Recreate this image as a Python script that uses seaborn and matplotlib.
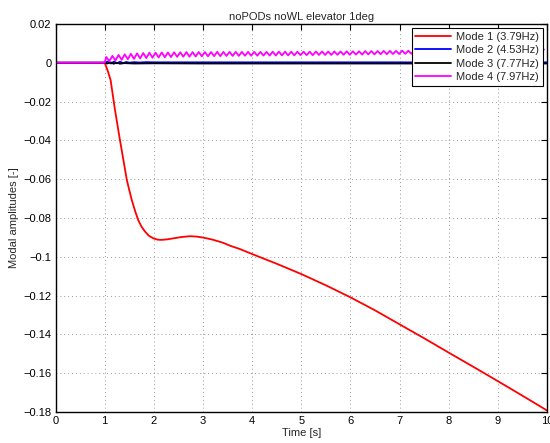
import numpy as np
import pandas as pd
import matplotlib
matplotlib.use("Agg")
import matplotlib.pyplot as plt
import seaborn as sns

# ---------------- data ----------------
title = "noPODs noWL elevator 1deg"
labels = ["Mode 1 (3.79Hz)", "Mode 2 (4.53Hz)", "Mode 3 (7.77Hz)", "Mode 4 (7.97Hz)"]
colors = ["#ff0000", "#0000ff", "#000000", "#ff00ff"]

x_ticks = [0, 1, 2, 3, 4, 5, 6, 7, 8, 9, 10]
y_ticks = [0.02, 0, -0.02, -0.04, -0.06, -0.08, -0.10, -0.12, -0.14, -0.16, -0.18]
y_tick_labels = ["0.02", "0", "\u22120.02", "\u22120.04", "\u22120.06", "\u22120.08",
                 "\u22120.1", "\u22120.12", "\u22120.14", "\u22120.16", "\u22120.18"]

# Mode 1
t_mode1 = [0, 1.0, 1.06, 1.12, 1.21, 1.31, 1.38, 1.45, 1.55, 1.62, 1.68, 1.75, 1.82, 1.90,
           1.99, 2.08, 2.16, 2.28, 2.40, 2.57, 2.74, 2.87, 3.0, 3.2, 3.41, 3.55, 3.75, 4.0,
           4.5, 5.0, 5.5, 6.0, 6.5, 7.0, 7.5, 8.0, 8.5, 9.0, 9.5, 10.0]
v_mode1 = [0, 0, -0.0040, -0.0089, -0.0244, -0.0398, -0.0500, -0.0604, -0.0707, -0.0765,
           -0.0810, -0.0845, -0.0870, -0.0892, -0.0905, -0.0912, -0.0913, -0.0910, -0.0905,
           -0.0898, -0.0894, -0.0896, -0.0901, -0.0912, -0.0928, -0.0943, -0.0960, -0.0986,
           -0.1036, -0.1089, -0.1147, -0.1209, -0.1276, -0.1348, -0.1420, -0.1494, -0.1567,
           -0.1641, -0.1716, -0.1792]

# Mode 2
t_mode2 = [0, 1.0, 1.06, 1.13, 1.19, 1.25, 1.31, 1.38, 1.44, 1.5, 1.6, 1.7, 1.85, 2.0,
           3.0, 4.0, 5.0, 6.0, 7.0, 8.0, 9.0, 10.0]
v_mode2 = [0, 0, 0.0006, -0.0004, 0.0006, -0.0003, 0.0005, -0.0002, 0.0004, 0.0000,
           0.0003, 0.0001, 0.0003, 0.0002, 0.0002, 0.0002, 0.0002, 0.0002, 0.0002,
           0.0002, 0.0002, 0.0002]

# Mode 3
t_mode3 = [0, 1.0, 1.05, 1.12, 1.18, 1.25, 1.31, 1.4, 1.6, 2.0, 3.0, 4.0, 5.0, 6.0,
           7.0, 8.0, 9.0, 10.0]
v_mode3 = [0, 0, -0.0004, 0.0002, -0.0005, 0.0000, -0.0005, -0.0002, -0.0004, -0.0003,
           -0.0004, -0.0004, -0.0004, -0.0004, -0.0004, -0.0004, -0.0004, -0.0004]

# Mode 4: successive peak / trough values of the 7.97 Hz oscillation from t = 1 s
mode4_freq = 7.97
mode4_peaks = [
    0.0030, 0.0035, 0.0040, 0.0043, 0.0046, 0.0048, 0.0050, 0.0052,
    0.0052, 0.0053, 0.0053, 0.0054, 0.0054, 0.0055, 0.0055, 0.0055,
    0.0055, 0.0055, 0.0056, 0.0056, 0.0056, 0.0056, 0.0056, 0.0056,
    0.0056, 0.0056, 0.0056, 0.0057, 0.0057, 0.0057, 0.0057, 0.0057,
    0.0057, 0.0057, 0.0058, 0.0058, 0.0058, 0.0058, 0.0058, 0.0059,
    0.0059, 0.0059, 0.0060, 0.0060, 0.0060, 0.0061, 0.0061, 0.0061,
    0.0062, 0.0062, 0.0062, 0.0063, 0.0063, 0.0063, 0.0064, 0.0064,
    0.0064, 0.0064, 0.0065, 0.0065, 0.0065, 0.0065, 0.0066, 0.0066,
    0.0066, 0.0066, 0.0067, 0.0067, 0.0067, 0.0067, 0.0068, 0.0068]
mode4_troughs = [
    0.0008, 0.0012, 0.0015, 0.0018, 0.0020, 0.0022, 0.0024, 0.0026,
    0.0027, 0.0028, 0.0029, 0.0030, 0.0031, 0.0031, 0.0032, 0.0033,
    0.0033, 0.0034, 0.0034, 0.0035, 0.0035, 0.0035, 0.0036, 0.0036,
    0.0036, 0.0037, 0.0037, 0.0037, 0.0038, 0.0038, 0.0038, 0.0039,
    0.0039, 0.0039, 0.0040, 0.0040, 0.0040, 0.0041, 0.0041, 0.0041,
    0.0042, 0.0042, 0.0043, 0.0043, 0.0044, 0.0044, 0.0045, 0.0045,
    0.0046, 0.0046, 0.0047, 0.0047, 0.0048, 0.0048, 0.0048, 0.0049,
    0.0049, 0.0050, 0.0050, 0.0050, 0.0051, 0.0051, 0.0051, 0.0052,
    0.0052, 0.0052, 0.0053, 0.0053, 0.0053, 0.0054, 0.0054, 0.0054]

# ---------------- build series ----------------
n4 = len(mode4_peaks)
k = np.arange(n4)
t4_peaks = 1.0 + (k + 0.25) / mode4_freq
t4_troughs = 1.0 + (k + 0.75) / mode4_freq
t_mode4 = np.concatenate([[0.0, 1.0], np.column_stack([t4_peaks, t4_troughs]).ravel()])
v_mode4 = np.concatenate([[0.0, 0.0], np.column_stack([mode4_peaks, mode4_troughs]).ravel()])
keep = t_mode4 <= 10.0
t_mode4, v_mode4 = t_mode4[keep], v_mode4[keep]

series = [(t_mode1, v_mode1), (t_mode2, v_mode2), (t_mode3, v_mode3), (t_mode4, v_mode4)]
frames = []
for (t, v), lab in zip(series, labels):
    frames.append(pd.DataFrame({"Time": np.asarray(t, float), "Amp": np.asarray(v, float), "Mode": lab}))
df = pd.concat(frames, ignore_index=True)

# ---------------- plot ----------------
sns.set_style("white")
plt.rcParams["font.family"] = ["Liberation Sans", "DejaVu Sans"]

fig = plt.figure(figsize=(5.5, 4.43), dpi=100)
ax = fig.add_axes([0.101, 0.070, 0.8935, 0.876])

for lab, col in zip(labels, colors):
    sub = df[df["Mode"] == lab]
    sns.lineplot(data=sub, x="Time", y="Amp", color=col, label=lab, ax=ax,
                 estimator=None, sort=False, linewidth=1.3)

ax.set_xlim(0, 10)
ax.set_ylim(-0.18, 0.02)
ax.set_xticks(x_ticks)
ax.set_xticklabels([str(v) for v in x_ticks], fontsize=8)
ax.set_yticks(y_ticks)
ax.set_yticklabels(y_tick_labels, fontsize=8)
ax.tick_params(direction="in", top=True, right=True, length=4, width=0.8, pad=3,
               colors="black")
ax.grid(True, linestyle=(0, (1, 3)), color="0.6", linewidth=0.7)
for s in ax.spines.values():
    s.set_color("black")
    s.set_linewidth(1.0)

ax.set_xlabel("Time [s]", fontsize=8, labelpad=1)
ax.set_ylabel("Modal amplitudes [-]", fontsize=8, labelpad=3)
ax.set_title(title, fontsize=8, pad=3)

leg = ax.legend(loc="upper right", fontsize=8, frameon=True, fancybox=False,
                edgecolor="black", framealpha=1, handlelength=3.2, borderaxespad=0.4,
                borderpad=0.3, labelspacing=0.32, handletextpad=0.5)
leg.get_frame().set_linewidth(0.8)

fig.savefig("out.png", dpi=100)
